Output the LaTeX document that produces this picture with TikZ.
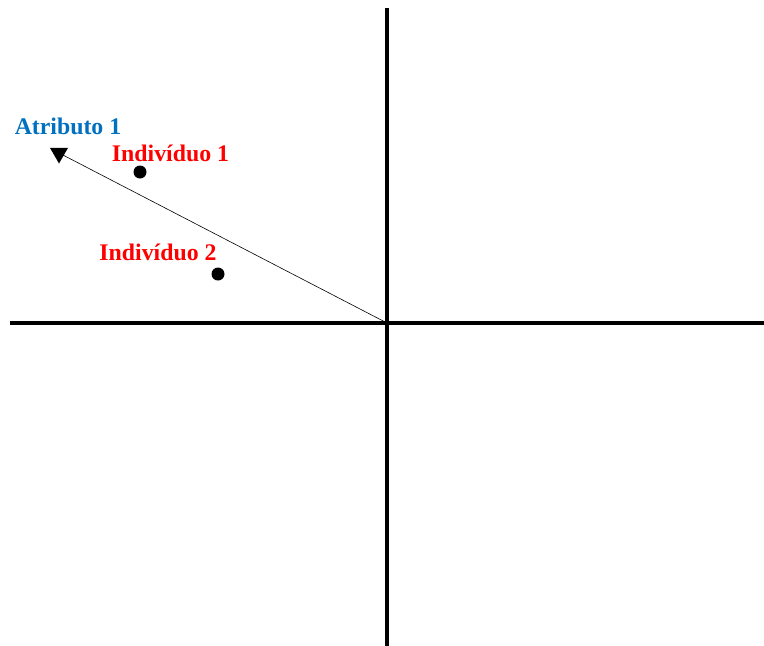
\documentclass[tikz,border=0pt]{standalone}
\usepackage{fontspec}
\usetikzlibrary{shapes.geometric}
\setmainfont{Liberation Serif}
\definecolor{attrblue}{RGB}{0,112,192}
\definecolor{indred}{RGB}{255,0,0}
\begin{document}
\begin{tikzpicture}[x=1pt,y=-1pt,
  axis/.style={line width=3.2pt},
  lbl/.style={font=\bfseries\fontsize{23.8}{26}\selectfont, inner sep=0pt, anchor=base},
  dot/.style={circle, fill=black, minimum size=13pt, inner sep=0pt}]
\useasboundingbox (0,0) rectangle (764,646);
\coordinate (xl) at (10,323);
\coordinate (xr) at (764,323);
\coordinate (yt) at (387,8);
\coordinate (yb) at (387,646);
\coordinate (o) at (387,323);
\draw[axis] (xl) -- (xr);
\draw[axis] (yt) -- (yb);
\coordinate (tip) at (61,154);
\draw[line width=0.6pt] (o) -- (tip);
\node[draw=none, fill=black, regular polygon, regular polygon sides=3, shape border rotate=180, minimum size=21pt, inner sep=0pt] (tri) at (59,153) {};
\node[dot] (i1) at (140,172) {};
\node[dot] (i2) at (218,274) {};
\node[lbl, text=attrblue] (a1) at (68,134) {Atributo 1};
\node[lbl, text=indred] (l1) at (170.5,161) {Indivíduo 1};
\node[lbl, text=indred] (l2) at (158,260.5) {Indivíduo 2};
\end{tikzpicture}
\end{document}
